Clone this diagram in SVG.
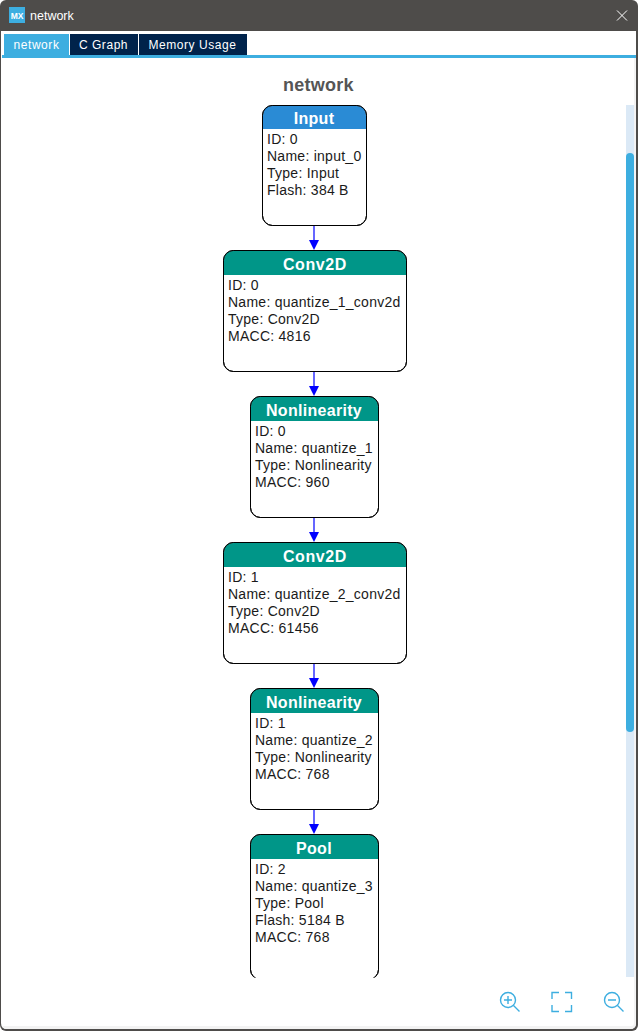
<svg xmlns="http://www.w3.org/2000/svg" width="638" height="1031" viewBox="0 0 638 1031">
<style>
text{font-family:"Liberation Sans",Arial,sans-serif}
.box{fill:#fff;stroke:#000;stroke-width:1}
.line{fill:none;stroke:#000;stroke-width:1}
.hd{fill:#009688}
.hi{fill:#2a8bd5}
.t{font-size:16px;font-weight:bold;fill:#fff;text-anchor:middle;letter-spacing:.3px}
.b{font-size:14px;fill:#1a1a1a;letter-spacing:.26px}
.tab{font-size:12px;fill:#fff;letter-spacing:.55px;text-anchor:middle}
.edge{stroke:#0000ff;stroke-width:1.2;fill:none}
.tip{fill:#0000ff}
.ic{fill:none;stroke:#3daee0;stroke-width:1.4}
</style>
<defs>
<clipPath id="view"><rect x="0" y="0" width="638" height="977.500"/></clipPath>
</defs>
<rect width="638" height="1031" fill="#fff"/>
<rect width="638" height="1031" rx="6" fill="#4e4c4a"/>
<path d="M1 31H636V1023Q636 1029 630 1029H7Q1 1029 1 1023Z" fill="#fff"/>
<path d="M634 58H636V1023Q636 1029 630 1029H7Q3 1029 2 1026H631Q634 1026 634 1023Z" fill="#f3f3f3"/>
<g id="titlebar">
<rect x="9" y="7" width="16" height="16" fill="#3daee0"/>
<text x="17" y="18.500" font-size="8.500" font-weight="bold" fill="#fff" text-anchor="middle">MX</text>
<text x="30" y="20" font-size="12.500" fill="#fff">network</text>
<path d="M617 10.500L627 20.500M627 10.500L617 20.500" stroke="#fff" stroke-width="1" fill="none"/>
</g>
<g id="tabs">
<rect x="4" y="34" width="65" height="21" fill="#3daee0"/>
<rect x="70" y="34" width="68" height="21" fill="#00234b"/>
<rect x="139" y="34" width="108" height="21" fill="#00234b"/>
<rect x="2" y="55" width="634" height="3" fill="#3daee0"/>
<text class="tab" x="36.500" y="49">network</text>
<text class="tab" x="103.500" y="49">C Graph</text>
<text class="tab" x="192.500" y="49">Memory Usage</text>
</g>
<text x="318.500" y="91" font-size="18" font-weight="bold" fill="#555555" text-anchor="middle" letter-spacing=".25">network</text>
<g id="scrollbar">
<rect x="626" y="105" width="8" height="872" fill="#dbe9f6"/>
<rect x="626" y="153" width="8" height="579" rx="4" fill="#3daee0"/>
</g>
<g id="connectors">
<path class="edge" d="M314 226V241"/><path class="tip" d="M309 240H319L314 250Z"/>
<path class="edge" d="M314 372V387"/><path class="tip" d="M309 386H319L314 396Z"/>
<path class="edge" d="M314 518V533"/><path class="tip" d="M309 532H319L314 542Z"/>
<path class="edge" d="M314 664V679"/><path class="tip" d="M309 678H319L314 688Z"/>
<path class="edge" d="M314 810V825"/><path class="tip" d="M309 824H319L314 834Z"/>
</g>
<g id="node-input">
<rect class="box" x="262.500" y="105.500" width="104" height="120" rx="10"/>
<path class="hi" d="M263 129V115.500Q263 106 272.500 106H356.500Q366 106 366 115.500V129Z"/>
<rect class="line" x="262.500" y="105.500" width="104" height="120" rx="10"/>
<text class="t" x="314" y="124">Input</text>
<text class="b" x="267" y="144">ID: 0</text><text class="b" x="267" y="161">Name: input_0</text><text class="b" x="267" y="178">Type: Input</text><text class="b" x="267" y="195">Flash: 384 B</text>
</g>
<g id="node-conv2d-0">
<rect class="box" x="223.500" y="250.500" width="183" height="121" rx="10"/>
<path class="hd" d="M224 275V260.500Q224 251 233.500 251H396.500Q406 251 406 260.500V275Z"/>
<rect class="line" x="223.500" y="250.500" width="183" height="121" rx="10"/>
<text class="t" x="315" y="270" style="letter-spacing:.6px">Conv2D</text>
<text class="b" x="228" y="290">ID: 0</text><text class="b" x="228" y="307">Name: quantize_1_conv2d</text><text class="b" x="228" y="324">Type: Conv2D</text><text class="b" x="228" y="341">MACC: 4816</text>
</g>
<g id="node-nonlinearity-0">
<rect class="box" x="250.500" y="396.500" width="128" height="121" rx="10"/>
<path class="hd" d="M251 421V406.500Q251 397 260.500 397H368.500Q378 397 378 406.500V421Z"/>
<rect class="line" x="250.500" y="396.500" width="128" height="121" rx="10"/>
<text class="t" x="314" y="416">Nonlinearity</text>
<text class="b" x="255" y="436">ID: 0</text><text class="b" x="255" y="453">Name: quantize_1</text><text class="b" x="255" y="470">Type: Nonlinearity</text><text class="b" x="255" y="487">MACC: 960</text>
</g>
<g id="node-conv2d-1">
<rect class="box" x="223.500" y="542.500" width="183" height="121" rx="10"/>
<path class="hd" d="M224 567V552.500Q224 543 233.500 543H396.500Q406 543 406 552.500V567Z"/>
<rect class="line" x="223.500" y="542.500" width="183" height="121" rx="10"/>
<text class="t" x="315" y="562" style="letter-spacing:.6px">Conv2D</text>
<text class="b" x="228" y="582">ID: 1</text><text class="b" x="228" y="599">Name: quantize_2_conv2d</text><text class="b" x="228" y="616">Type: Conv2D</text><text class="b" x="228" y="633">MACC: 61456</text>
</g>
<g id="node-nonlinearity-1">
<rect class="box" x="250.500" y="688.500" width="128" height="121" rx="10"/>
<path class="hd" d="M251 713V698.500Q251 689 260.500 689H368.500Q378 689 378 698.500V713Z"/>
<rect class="line" x="250.500" y="688.500" width="128" height="121" rx="10"/>
<text class="t" x="314" y="708">Nonlinearity</text>
<text class="b" x="255" y="728">ID: 1</text><text class="b" x="255" y="745">Name: quantize_2</text><text class="b" x="255" y="762">Type: Nonlinearity</text><text class="b" x="255" y="779">MACC: 768</text>
</g>
<g id="node-pool" clip-path="url(#view)">
<rect class="box" x="250.500" y="834.500" width="128" height="145" rx="10"/>
<path class="hd" d="M251 859V844.500Q251 835 260.500 835H368.500Q378 835 378 844.500V859Z"/>
<rect class="line" x="250.500" y="834.500" width="128" height="145" rx="10"/>
<text class="t" x="314" y="854">Pool</text>
<text class="b" x="255" y="874">ID: 2</text><text class="b" x="255" y="891">Name: quantize_3</text><text class="b" x="255" y="908">Type: Pool</text><text class="b" x="255" y="925">Flash: 5184 B</text><text class="b" x="255" y="942">MACC: 768</text>
</g>
<g id="toolbar">
<circle class="ic" cx="508" cy="1000" r="7.500"/><path class="ic" d="M513.500 1005.500L519.500 1011.500M504 1000H512M508 996V1004"/>
<path class="ic" d="M552 999V992.500H559M565 992.500H571.500V999M571.500 1005V1011.500H565M559 1011.500H552V1005"/>
<circle class="ic" cx="612" cy="1000" r="7.500"/><path class="ic" d="M617.500 1005.500L623.500 1011.500M608 1000H616"/>
</g>
</svg>
